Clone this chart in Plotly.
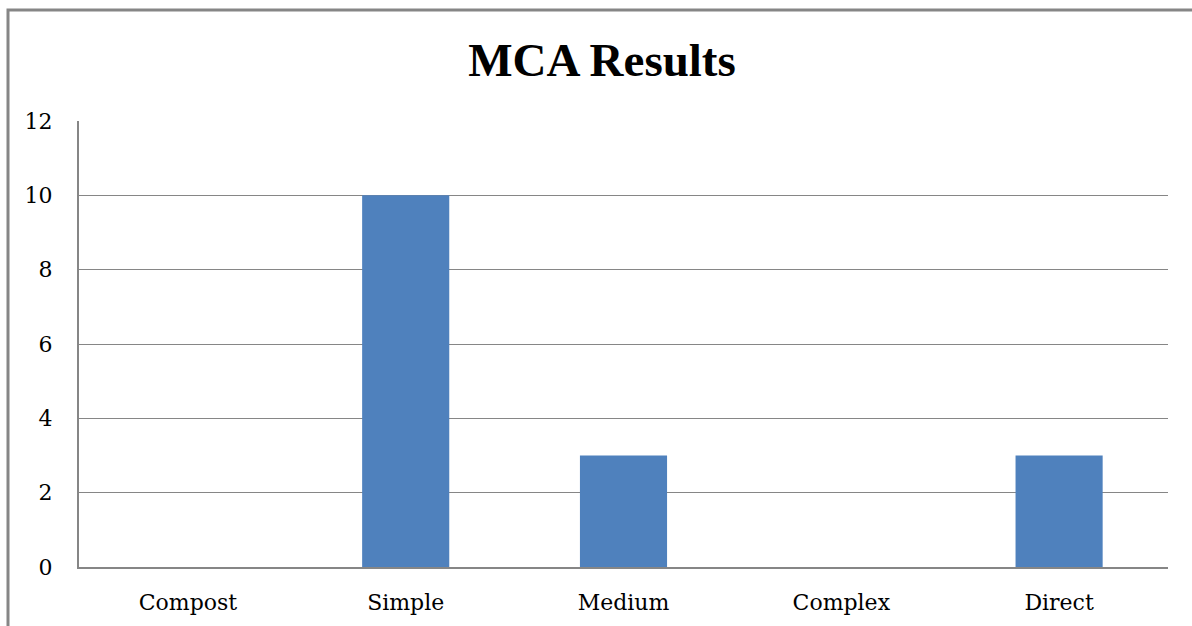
import plotly.graph_objects as go

categories = ["Compost", "Simple", "Medium", "Complex", "Direct"]
values = [0, 10, 3, 0, 3]
y_ticks = [0, 2, 4, 6, 8, 10, 12]

W, H = 1192, 626
L, R, T, B = 79, 24, 121, 59
pw, ph = W - L - R, H - T - B

fig = go.Figure(go.Bar(x=categories, y=values, marker=dict(color="#4F81BD", line=dict(width=0)), width=0.4))

fig.update_layout(
    width=W, height=H,
    margin=dict(l=L, r=R, t=T, b=B),
    paper_bgcolor="white", plot_bgcolor="white",
    font=dict(family="DejaVu Serif, Liberation Serif, serif", color="black", size=22),
    title=dict(text="<b>MCA Results</b>", x=602 / W, xref="container", xanchor="center",
               y=1 - 60 / H, yanchor="middle",
               font=dict(size=47, color="black", family="Liberation Serif, serif")),
    showlegend=False,
)
fig.update_xaxes(showline=True, linecolor="#868686", linewidth=2, ticks="", showgrid=False,
                 tickfont=dict(size=22), ticklabelstandoff=15)
fig.update_yaxes(range=[0, 12], tickvals=y_ticks, showgrid=True, gridcolor="#868686", gridwidth=1,
                 showline=True, linecolor="#868686", linewidth=2, ticks="", zeroline=False,
                 tickfont=dict(size=22), ticklabelstandoff=20)

# chart border (extends past the bottom and right of the picture)
x0 = (8 - L) / pw
y1 = (H - B - 10) / ph
fig.add_shape(type="rect", xref="paper", yref="paper", x0=x0, x1=1.1, y0=-0.3, y1=y1,
              line=dict(color="#868686", width=3), fillcolor="rgba(0,0,0,0)", layer="above")

fig.write_html("out.html", config={"displayModeBar": False},
               post_script="document.body.style.margin='0';document.body.style.overflow='hidden';")
